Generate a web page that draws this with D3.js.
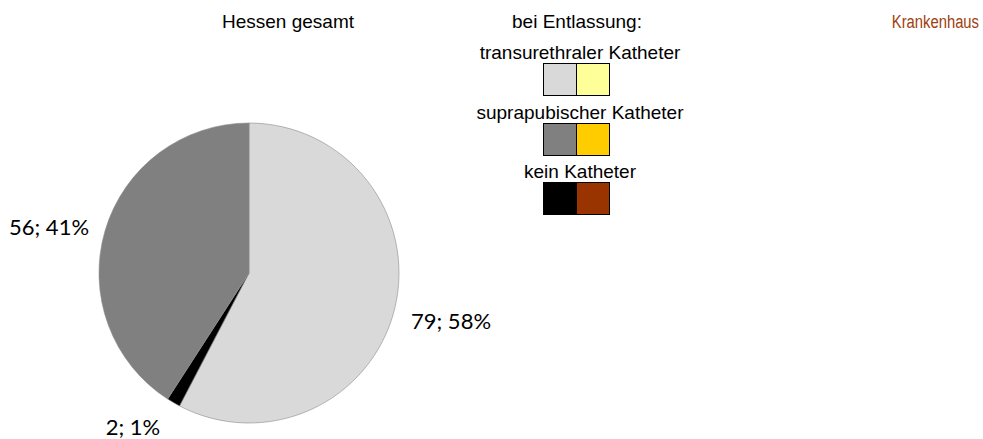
<!DOCTYPE html>
<html>
<head>
<meta charset="utf-8">
<script src="https://cdn.jsdelivr.net/npm/d3@7"></script>
<style>
  body { margin: 0; background: #fff; }
  svg { display: block; }
</style>
</head>
<body>
<svg id="chart" width="983" height="439"></svg>
<script>
// data
var categories = ['transurethraler Katheter', 'suprapubischer Katheter', 'kein Katheter']
var counts = [79, 56, 2]
var percents = [58, 41, 1]
var sliceOrder = [0, 2, 1] // clockwise from top: transurethral, kein, suprapubisch
var colorsHessen = ['#d9d9d9', '#808080', '#000000']
var colorsHaus = ['#ffff99', '#ffcc00', '#993300']

var svg = d3.select('#chart')

// titles
var titleFont = 'Liberation Sans, Arial, sans-serif'
svg.append('text').attr('x', 288).attr('y', 28).attr('text-anchor', 'middle')
  .style('font', '19px ' + titleFont).text('Hessen gesamt')
svg.append('text').attr('x', 577).attr('y', 28).attr('text-anchor', 'middle')
  .style('font', '19px ' + titleFont).text('bei Entlassung:')
// narrow in the original, so squeeze it horizontally
svg.append('text').attr('transform', 'translate(979,28) scale(0.78,1)')
  .attr('text-anchor', 'end')
  .style('font', '19px ' + titleFont).attr('fill', '#a0400f').text('Krankenhaus')

// legend
var legY = d3.scaleLinear().domain([0, 1]).range([59, 119])
var legend = svg.append('g')
categories.forEach(function(c, i) {
  var y = legY(i) - (i === 2 ? 1 : 0)
  legend.append('text').attr('x', 580).attr('y', y).attr('text-anchor', 'middle')
    .style('font', '19px ' + titleFont).text(c)
  legend.append('rect').attr('x', 543.5).attr('y', y + 4.5).attr('width', 33).attr('height', 32)
    .attr('fill', colorsHessen[i]).attr('stroke', '#000').attr('stroke-width', 1)
  legend.append('rect').attr('x', 576.5).attr('y', y + 4.5).attr('width', 33).attr('height', 32)
    .attr('fill', colorsHaus[i]).attr('stroke', '#000').attr('stroke-width', 1)
})

// pie
var cx = 249, cy = 273, r = 150
var slices = sliceOrder.map(function(i) {
  return { value: counts[i], pct: percents[i], color: colorsHessen[i] }
})
var pie = d3.pie().sort(null).value(function(d) { return d.value })
var arc = d3.arc().innerRadius(0).outerRadius(r)
var arcs = pie(slices)

var g = svg.append('g').attr('transform', 'translate(' + cx + ',' + cy + ')')
g.selectAll('path').data(arcs).enter().append('path')
  .attr('d', arc)
  .attr('fill', function(d) { return d.data.color })
  .attr('stroke', '#8c8c8c').attr('stroke-width', 0.6)

// data labels
var labelPos = [[451, 329], [133, 435], [49, 235]]
var labelFont = 'Lato, "Open Sans", sans-serif'
svg.selectAll('.lbl').data(arcs).enter().append('text')
  .attr('class', 'lbl')
  .attr('x', function(d, i) { return labelPos[i][0] })
  .attr('y', function(d, i) { return labelPos[i][1] })
  .attr('text-anchor', 'middle')
  .style('font', '22px ' + labelFont)
  .text(function(d) { return d.data.value + '; ' + d.data.pct + '%' })
</script>
</body>
</html>
